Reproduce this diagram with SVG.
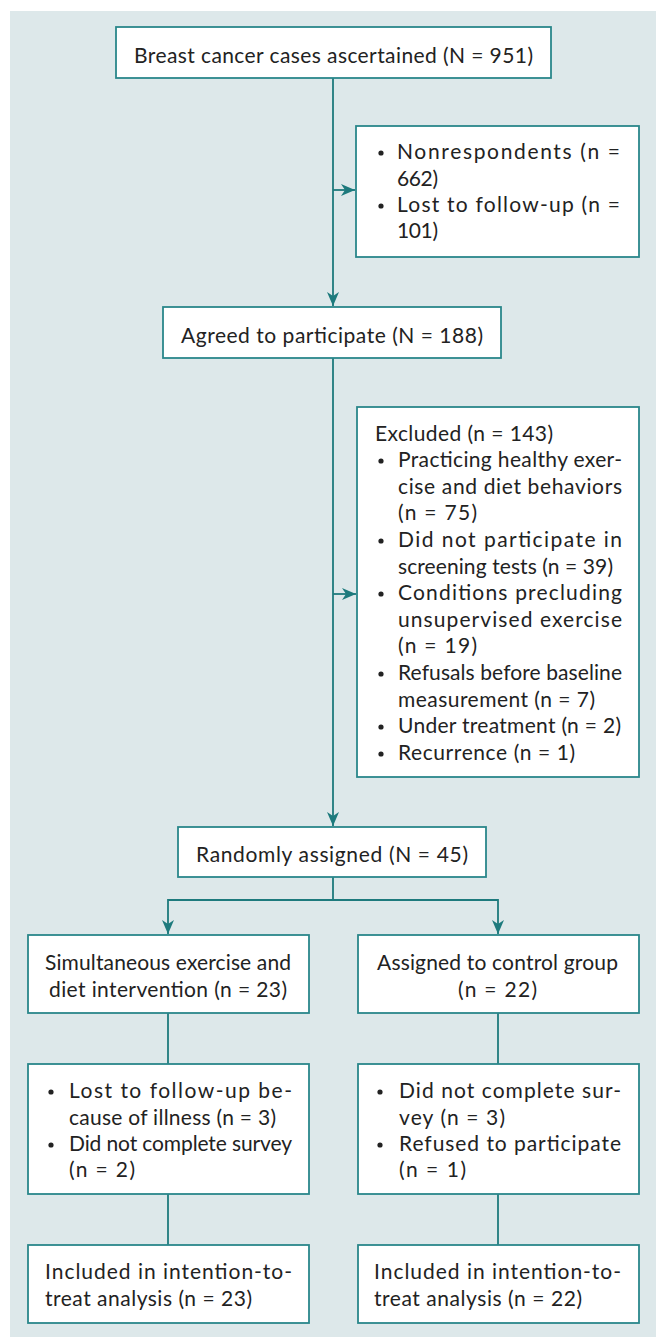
<svg xmlns="http://www.w3.org/2000/svg" width="656" height="1338" viewBox="0 0 656 1338">
<style>
.bg{fill:#dde8ea}
.box{fill:#ffffff;stroke:#2a878b;stroke-width:1.8}
.ln{fill:none;stroke:#1d7a7d;stroke-width:1.8}
.t{font-family:Lato,"Open Sans","Liberation Sans",sans-serif;font-size:21px;fill:#222222}
.b{fill:#222222}
</style>
<defs>
<marker id="ah" markerUnits="userSpaceOnUse" markerWidth="16" markerHeight="14" refX="14" refY="6" orient="auto">
<path d="M0,0 L14,6 L0,12 L4,6 Z" fill="#1d7a7d"/>
</marker>
</defs>
<rect class="bg" x="10" y="11" width="646" height="1326"/>
<g id="connectors">
<path class="ln" d="M333,78 V306" marker-end="url(#ah)"/>
<path class="ln" d="M333,190 H355" marker-end="url(#ah)"/>
<path class="ln" d="M333,358 V826" marker-end="url(#ah)"/>
<path class="ln" d="M333,594 H356" marker-end="url(#ah)"/>
<path class="ln" d="M333,877 V900 H168 V934" marker-end="url(#ah)"/>
<path class="ln" d="M333,900 H498 V934" marker-end="url(#ah)"/>
<path class="ln" d="M168,1013 V1064"/>
<path class="ln" d="M498,1013 V1064"/>
<path class="ln" d="M168,1194 V1245"/>
<path class="ln" d="M498,1194 V1245"/>
</g>
<g id="n-cases">
<rect class="box" x="116" y="27" width="435" height="51"/>
<text class="t" x="134" y="63" textLength="399">Breast cancer cases ascertained (N = 951)</text>
</g>
<g id="n-nonresp">
<rect class="box" x="356" y="126" width="283" height="131"/>
<circle class="b" cx="381" cy="153" r="2.6"/>
<text class="t" x="397" y="159" textLength="223">Nonrespondents (n =</text>
<text class="t" x="397" y="186" textLength="41">662)</text>
<circle class="b" cx="381" cy="206" r="2.6"/>
<text class="t" x="397" y="212" textLength="223">Lost to follow-up (n =</text>
<text class="t" x="397" y="238" textLength="41">101)</text>
</g>
<g id="n-agreed">
<rect class="box" x="163" y="307" width="338" height="51"/>
<text class="t" x="181" y="343" textLength="302">Agreed to participate (N = 188)</text>
</g>
<g id="n-excluded">
<rect class="box" x="357" y="407" width="282" height="370"/>
<text class="t" x="375" y="440.5" textLength="178">Excluded (n = 143)</text>
<circle class="b" cx="381" cy="461" r="2.6"/>
<text class="t" x="398" y="467" textLength="224">Practicing healthy exer-</text>
<text class="t" x="398" y="494" textLength="224">cise and diet behaviors</text>
<text class="t" x="398" y="520" textLength="79">(n = 75)</text>
<circle class="b" cx="381" cy="541" r="2.6"/>
<text class="t" x="398" y="547" textLength="224">Did not participate in</text>
<text class="t" x="398" y="574" textLength="215">screening tests (n = 39)</text>
<circle class="b" cx="381" cy="594" r="2.6"/>
<text class="t" x="398" y="600" textLength="224">Conditions precluding</text>
<text class="t" x="398" y="627" textLength="224">unsupervised exercise</text>
<text class="t" x="398" y="653" textLength="79">(n = 19)</text>
<circle class="b" cx="381" cy="674" r="2.6"/>
<text class="t" x="398" y="680" textLength="224">Refusals before baseline</text>
<text class="t" x="398" y="707" textLength="197">measurement (n = 7)</text>
<circle class="b" cx="381" cy="727" r="2.6"/>
<text class="t" x="398" y="733" textLength="223">Under treatment (n = 2)</text>
<circle class="b" cx="381" cy="754" r="2.6"/>
<text class="t" x="398" y="760" textLength="177">Recurrence (n = 1)</text>
</g>
<g id="n-random">
<rect class="box" x="178" y="827" width="308" height="50"/>
<text class="t" x="196" y="862" textLength="272">Randomly assigned (N = 45)</text>
</g>
<g id="n-intervention">
<rect class="box" x="28" y="935" width="281" height="78"/>
<text class="t" x="45" y="970" textLength="246">Simultaneous exercise and</text>
<text class="t" x="49" y="997" textLength="238">diet intervention (n = 23)</text>
</g>
<g id="n-control">
<rect class="box" x="358" y="935" width="281" height="78"/>
<text class="t" x="377" y="970" textLength="241">Assigned to control group</text>
<text class="t" x="458" y="997" textLength="79">(n = 22)</text>
</g>
<g id="n-lost-int">
<rect class="box" x="28" y="1064" width="281" height="130"/>
<circle class="b" cx="51" cy="1092" r="2.6"/>
<text class="t" x="69" y="1098" textLength="223">Lost to follow-up be-</text>
<text class="t" x="69" y="1125" textLength="207">cause of illness (n = 3)</text>
<circle class="b" cx="51" cy="1145" r="2.6"/>
<text class="t" x="69" y="1151" textLength="223">Did not complete survey</text>
<text class="t" x="69" y="1177" textLength="66">(n = 2)</text>
</g>
<g id="n-lost-ctl">
<rect class="box" x="358" y="1064" width="281" height="130"/>
<circle class="b" cx="380" cy="1092" r="2.6"/>
<text class="t" x="399" y="1098" textLength="222">Did not complete sur-</text>
<text class="t" x="399" y="1125" textLength="106">vey (n = 3)</text>
<circle class="b" cx="380" cy="1145" r="2.6"/>
<text class="t" x="399" y="1151" textLength="222">Refused to participate</text>
<text class="t" x="399" y="1177" textLength="67">(n = 1)</text>
</g>
<g id="n-itt-int">
<rect class="box" x="28" y="1245" width="281" height="78"/>
<text class="t" x="45" y="1279" textLength="247">Included in intention-to-</text>
<text class="t" x="45" y="1306" textLength="207">treat analysis (n = 23)</text>
</g>
<g id="n-itt-ctl">
<rect class="box" x="358" y="1245" width="281" height="78"/>
<text class="t" x="374" y="1279" textLength="247">Included in intention-to-</text>
<text class="t" x="374" y="1306" textLength="208">treat analysis (n = 22)</text>
</g>
</svg>
